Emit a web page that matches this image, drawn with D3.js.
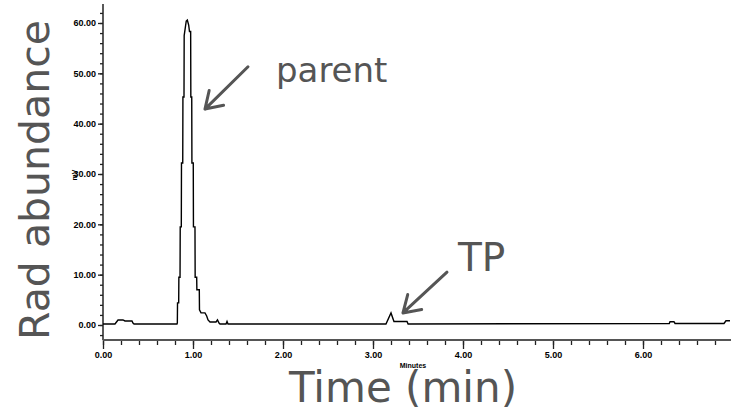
<!DOCTYPE html>
<html>
<head>
<meta charset="utf-8">
<script src="https://cdn.jsdelivr.net/npm/d3@7"></script>
<style>
    body { margin: 0; background: #fff; }
    svg { display: block; }
    .tick-lbl text { font-family: "Liberation Sans Narrow", "Liberation Sans", sans-serif; font-weight: bold; font-size: 9px; fill: #000; }
    .big { font-family: "DejaVu Sans", Verdana, sans-serif; fill: #555; }
</style>
</head>
<body>
<div id="chart"></div>
<script>
// chromatogram trace, time in minutes and detector signal in mV
const times = [0, 0.133, 0.167, 0.222, 0.244, 0.322, 0.333, 0.345, 0.822,
    0.826, 0.828, 0.841, 0.843, 0.856, 0.858, 0.870, 0.872, 0.886, 0.888, 0.900, 0.902,
    0.925, 0.937, 0.952, 0.961, 0.974, 0.976, 0.986, 0.988, 1.003, 1.005, 1.022, 1.024,
    1.041, 1.043, 1.070, 1.072, 1.089, 1.133, 1.152, 1.167, 1.189, 1.256, 1.272, 1.289,
    1.300, 1.367, 1.378, 1.389,
    3.144, 3.200, 3.233, 3.378, 3.390,
    6.292, 6.300, 6.344, 6.356, 6.900, 6.922, 6.967];
const signal = [0.2, 0.2, 1.0, 1.0, 0.8, 0.8, 0.4, 0.2, 0.2,
    0.4, 4.4, 4.4, 9.5, 9.5, 19.5, 19.5, 32.2, 32.2, 45.3, 45.3, 57.5,
    60.4, 60.6, 59.6, 58.3, 58.3, 45.3, 45.3, 32.2, 32.2, 19.5, 19.5, 9.5,
    9.5, 7.0, 7.0, 3.0, 2.4, 2.4, 1.8, 1.0, 0.6, 0.6, 1.0, 0.4,
    0.2, 0.2, 0.7, 0.2,
    0.2, 2.4, 0.7, 0.7, 0.2,
    0.3, 0.65, 0.65, 0.3, 0.3, 0.85, 0.85];

const xMajor = [0, 1, 2, 3, 4, 5, 6];
const xLabels = ['0.00', '1.00', '2.00', '3.00', '4.00', '5.00', '6.00'];
const yMajor = [0, 10, 20, 30, 40, 50, 60];
const yLabels = ['0.00', '10.00', '20.00', '30.00', '40.00', '50.00', '60.00'];

// annotations: label, text position (t, v), arrow tail and tip (t, v)
const noteLabels = ['parent', 'TP'];
const noteText = [[1.922, 48.3], [3.944, 10.7]];
const noteArrow = [[1.611, 51.3, 1.133, 42.9], [3.822, 10.5, 3.333, 2.4]];
const noteSize = [34, 39];

(function() {
    'use strict';

    const width = 731, height = 414;
    const svg = d3.select('#chart').append('svg')
        .attr('width', width)
        .attr('height', height);

    const x = d3.scaleLinear().domain([0, 7]).range([103, 733]);
    const y = d3.scaleLinear().domain([0, 60]).range([325, 23]);
    const yBottom = 340;

    // y axis: minor then major
    const yMinor = d3.range(-2, 63, 2);
    svg.append('g')
        .attr('transform', 'translate(103,0)')
        .call(d3.axisLeft(y).tickValues(yMinor).tickSize(3).tickFormat(''))
        .call(g => g.select('.domain').remove())
        .call(g => g.selectAll('line').attr('stroke', '#222').attr('stroke-width', 1.3));

    svg.append('g')
        .attr('class', 'tick-lbl')
        .attr('transform', 'translate(103,0)')
        .call(d3.axisLeft(y).tickValues(yMajor).tickSize(5).tickPadding(2)
            .tickFormat((d, i) => yLabels[i]))
        .call(g => g.select('.domain').remove())
        .call(g => g.selectAll('line').attr('stroke', '#222').attr('stroke-width', 1.3));

    svg.append('line')
        .attr('x1', 103).attr('x2', 103)
        .attr('y1', 4).attr('y2', yBottom)
        .attr('stroke', '#222').attr('stroke-width', 1.5);

    // x axis
    const xMinor = d3.range(0, 35).map(i => i * 0.2);
    svg.append('g')
        .attr('transform', `translate(0,${yBottom})`)
        .call(d3.axisBottom(x).tickValues(xMinor).tickSize(5).tickFormat(''))
        .call(g => g.select('.domain').remove())
        .call(g => g.selectAll('line').attr('stroke', '#222').attr('stroke-width', 1.3));

    svg.append('g')
        .attr('class', 'tick-lbl')
        .attr('transform', `translate(0,${yBottom})`)
        .call(d3.axisBottom(x).tickValues(xMajor).tickSize(9).tickPadding(3)
            .tickFormat((d, i) => xLabels[i]))
        .call(g => g.select('.domain').remove())
        .call(g => g.selectAll('line').attr('stroke', '#222').attr('stroke-width', 1.3));

    svg.append('line')
        .attr('x1', 103).attr('x2', width)
        .attr('y1', yBottom).attr('y2', yBottom)
        .attr('stroke', '#555').attr('stroke-width', 2);

    // tiny instrument labels
    svg.append('text')
        .attr('transform', 'translate(77,175) rotate(-90)')
        .attr('text-anchor', 'middle')
        .style('font-family', '"Liberation Sans Narrow", sans-serif')
        .style('font-size', '7px')
        .style('font-weight', 'bold')
        .text('mV');

    svg.append('text')
        .attr('x', 413).attr('y', 368)
        .attr('text-anchor', 'middle')
        .style('font-family', '"Liberation Sans Narrow", sans-serif')
        .style('font-size', '7px')
        .style('font-weight', 'bold')
        .text('Minutes');

    // trace
    const pts = times.map((t, i) => [t, signal[i]]);
    const line = d3.line()
        .x(d => x(d[0]))
        .y(d => y(d[1]));

    svg.append('path')
        .datum(pts)
        .attr('fill', 'none')
        .attr('stroke', '#000')
        .attr('stroke-width', 1.4)
        .attr('stroke-linejoin', 'miter')
        .attr('d', line);

    // annotations
    noteLabels.forEach((lbl, i) => {
        const [t0, v0, t1, v1] = noteArrow[i];
        const x0 = x(t0), y0 = y(v0), x1 = x(t1), y1 = y(v1);
        const ang = Math.atan2(y1 - y0, x1 - x0);
        const len = 19, spread = Math.PI / 5.5;
        const a1 = [x1 - len * Math.cos(ang - spread), y1 - len * Math.sin(ang - spread)];
        const a2 = [x1 - len * Math.cos(ang + spread), y1 - len * Math.sin(ang + spread)];
        svg.append('path')
            .attr('d', `M${x0},${y0}L${x1},${y1}M${a1[0]},${a1[1]}L${x1},${y1}L${a2[0]},${a2[1]}`)
            .attr('fill', 'none')
            .attr('stroke', '#555')
            .attr('stroke-width', 3)
            .attr('stroke-linecap', 'round')
            .attr('stroke-linejoin', 'round');

        svg.append('text')
            .attr('class', 'big')
            .attr('x', x(noteText[i][0]))
            .attr('y', y(noteText[i][1]))
            .style('font-size', noteSize[i] + 'px')
            .text(lbl);
    });

    // big axis titles
    svg.append('text')
        .attr('class', 'big')
        .attr('transform', 'translate(49,180) rotate(-90)')
        .attr('text-anchor', 'middle')
        .style('font-size', '41px')
        .text('Rad abundance');

    svg.append('text')
        .attr('class', 'big')
        .attr('x', 403).attr('y', 402)
        .attr('text-anchor', 'middle')
        .style('font-size', '42px')
        .text('Time (min)');
})();
</script>
</body>
</html>
